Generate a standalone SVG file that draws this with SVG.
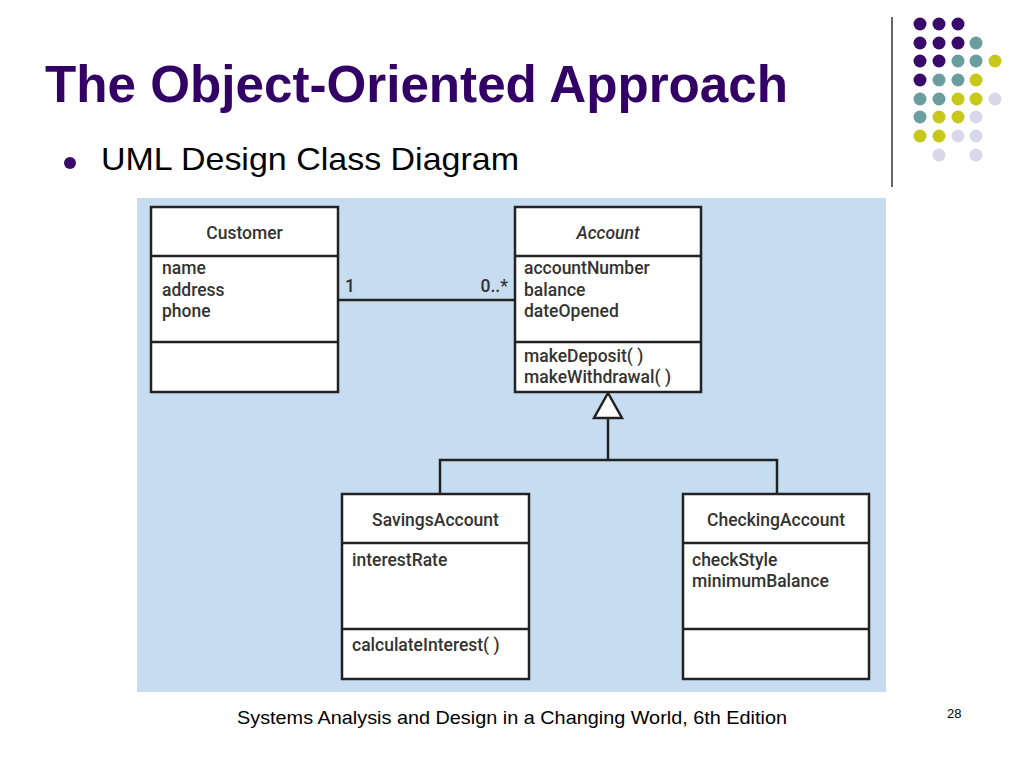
<svg xmlns="http://www.w3.org/2000/svg" width="1024" height="768" viewBox="0 0 1024 768">
<defs>
<style>
.box{fill:#fff;stroke:#222;stroke-width:2.5}
.div{stroke:#222;stroke-width:2.5;fill:none}
.con{stroke:#222;stroke-width:2.5;fill:none}
.t{font-family:Roboto,"Liberation Sans",sans-serif;font-weight:500;font-size:17.5px;fill:#333}
.h{text-anchor:middle}
.p{fill:#3a0a6b}.g{fill:#6a9e9e}.y{fill:#c8c81a}.l{fill:#d8d8ea}
</style>
</defs>
<rect width="1024" height="768" fill="#fff"/>
<line x1="892" y1="17" x2="892" y2="187" stroke="#333" stroke-width="1.5"/>
<g id="dots">
<circle class="p" cx="920" cy="24" r="6.5"/><circle class="p" cx="939" cy="24" r="6.5"/><circle class="p" cx="958" cy="24" r="6.5"/>
<circle class="p" cx="920" cy="43" r="6.5"/><circle class="p" cx="939" cy="43" r="6.5"/><circle class="p" cx="958" cy="43" r="6.5"/><circle class="g" cx="976" cy="43" r="6.5"/>
<circle class="p" cx="920" cy="61" r="6.5"/><circle class="p" cx="939" cy="61" r="6.5"/><circle class="g" cx="958" cy="61" r="6.5"/><circle class="g" cx="976" cy="61" r="6.5"/><circle class="y" cx="995" cy="61" r="6.5"/>
<circle class="p" cx="920" cy="80" r="6.5"/><circle class="g" cx="939" cy="80" r="6.5"/><circle class="g" cx="958" cy="80" r="6.5"/><circle class="y" cx="976" cy="80" r="6.5"/>
<circle class="g" cx="920" cy="99" r="6.5"/><circle class="g" cx="939" cy="99" r="6.5"/><circle class="y" cx="958" cy="99" r="6.5"/><circle class="y" cx="976" cy="99" r="6.5"/><circle class="l" cx="995" cy="99" r="6.5"/>
<circle class="g" cx="920" cy="117" r="6.5"/><circle class="y" cx="939" cy="117" r="6.5"/><circle class="y" cx="958" cy="117" r="6.5"/><circle class="l" cx="976" cy="117" r="6.5"/>
<circle class="y" cx="920" cy="136" r="6.5"/><circle class="y" cx="939" cy="136" r="6.5"/><circle class="l" cx="958" cy="136" r="6.5"/><circle class="l" cx="976" cy="136" r="6.5"/>
<circle class="l" cx="939" cy="155" r="6.5"/><circle class="l" cx="976" cy="155" r="6.5"/>
</g>
<text x="45" y="102" font-family="'Liberation Sans',Arial,sans-serif" font-weight="bold" font-size="52" fill="#330066" textLength="743" lengthAdjust="spacingAndGlyphs">The Object-Oriented Approach</text>
<circle cx="70" cy="163" r="6" fill="#3a0a6b"/>
<text x="101" y="170" font-family="'Liberation Sans',Arial,sans-serif" font-size="32" fill="#000" textLength="418" lengthAdjust="spacingAndGlyphs">UML Design Class Diagram</text>
<rect x="137" y="198" width="749" height="494" fill="#c6dcf0"/>
<g id="connectors">
<line class="con" x1="338" y1="300" x2="515" y2="300"/>
<text class="t" x="345" y="292">1</text>
<text class="t" x="508" y="292" text-anchor="end">0..*</text>
<polyline class="con" points="440,494 440,460 777,460 777,494"/>
<line class="con" x1="608" y1="460" x2="608" y2="418"/>
<polygon points="608,393 594,418 622,418" fill="#fff" stroke="#222" stroke-width="2.5"/>
</g>
<g id="customer">
<rect class="box" x="151" y="207" width="187" height="185"/>
<line class="div" x1="151" y1="256" x2="338" y2="256"/>
<line class="div" x1="151" y1="342" x2="338" y2="342"/>
<text class="t h" x="244.5" y="239">Customer</text>
<text class="t" x="162" y="274">name</text>
<text class="t" x="162" y="296">address</text>
<text class="t" x="162" y="317">phone</text>
</g>
<g id="account">
<rect class="box" x="515" y="207" width="186" height="185"/>
<line class="div" x1="515" y1="256" x2="701" y2="256"/>
<line class="div" x1="515" y1="342" x2="701" y2="342"/>
<text class="t h" x="608" y="239" font-style="italic">Account</text>
<text class="t" x="524" y="274">accountNumber</text>
<text class="t" x="524" y="296">balance</text>
<text class="t" x="524" y="317">dateOpened</text>
<text class="t" x="524" y="362">makeDeposit( )</text>
<text class="t" x="524" y="383">makeWithdrawal( )</text>
</g>
<g id="savings">
<rect class="box" x="342" y="494" width="187" height="185"/>
<line class="div" x1="342" y1="543" x2="529" y2="543"/>
<line class="div" x1="342" y1="629" x2="529" y2="629"/>
<text class="t h" x="435.5" y="526">SavingsAccount</text>
<text class="t" x="352" y="566">interestRate</text>
<text class="t" x="352" y="651">calculateInterest( )</text>
</g>
<g id="checking">
<rect class="box" x="683" y="494" width="186" height="185"/>
<line class="div" x1="683" y1="543" x2="869" y2="543"/>
<line class="div" x1="683" y1="629" x2="869" y2="629"/>
<text class="t h" x="776" y="526">CheckingAccount</text>
<text class="t" x="692" y="566">checkStyle</text>
<text class="t" x="692" y="587">minimumBalance</text>
</g>
<text x="237" y="724" font-family="'Liberation Sans',Arial,sans-serif" font-size="19" fill="#000" textLength="550" lengthAdjust="spacingAndGlyphs">Systems Analysis and Design in a Changing World, 6th Edition</text>
<text x="947" y="718" font-family="'Liberation Sans',Arial,sans-serif" font-size="13" fill="#000">28</text>
</svg>
